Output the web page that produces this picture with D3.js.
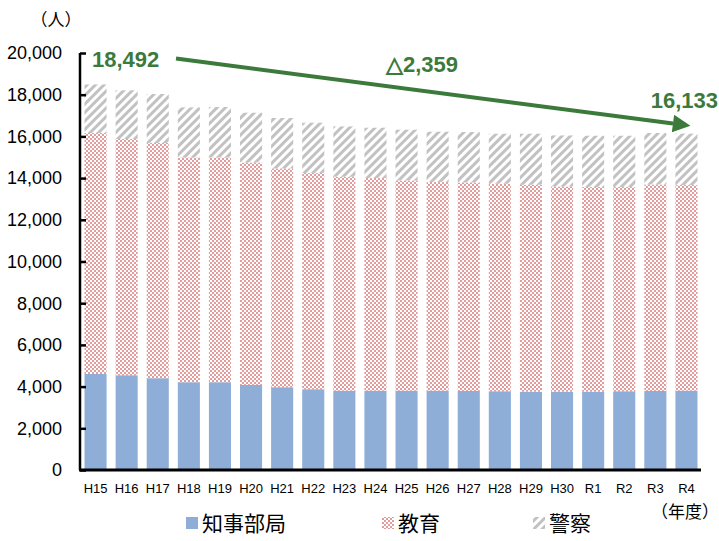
<!DOCTYPE html>
<html><head><meta charset="utf-8">
<script src="https://cdn.jsdelivr.net/npm/d3@7"></script>
<style>
body{margin:0;background:#fff;}
svg{display:block;}
</style></head>
<body>
<script>
const categories = ["H15","H16","H17","H18","H19","H20","H21","H22","H23","H24","H25","H26","H27","H28","H29","H30","R1","R2","R3","R4"];
const governor = [4608,4546,4402,4210,4210,4080,3970,3874,3806,3806,3806,3806,3792,3778,3758,3758,3758,3778,3792,3806];
const education = [11554,11328,11280,10780,10780,10670,10492,10368,10258,10196,10080,10004,9998,9950,9922,9840,9812,9792,9902,9860];
const police = [2330,2336,2352,2400,2420,2386,2420,2414,2414,2414,2434,2414,2420,2400,2448,2448,2462,2462,2468,2467];
const seriesNames = ["知事部局","教育","警察"];
const yTicks = [0,2000,4000,6000,8000,10000,12000,14000,16000,18000,20000];
const startLabel = "18,492", endLabel = "16,133", diffLabel = "△2,359";

const W = 719, H = 541;
const svg = d3.select("body").append("svg").attr("width", W).attr("height", H);
const defs = svg.append("defs");

// checker pattern for education
const chk = defs.append("pattern").attr("id","chk").attr("patternUnits","userSpaceOnUse").attr("width",4).attr("height",4);
chk.append("rect").attr("width",4).attr("height",4).attr("fill","#fff");
chk.append("rect").attr("width",2).attr("height",2).attr("fill","#e39c9c");
chk.append("rect").attr("x",2).attr("y",2).attr("width",2).attr("height",2).attr("fill","#e39c9c");

// diagonal stripes for police
const str = defs.append("pattern").attr("id","str").attr("patternUnits","userSpaceOnUse").attr("width",6).attr("height",6)
  .attr("patternTransform","rotate(45)");
str.append("rect").attr("width",6).attr("height",6).attr("fill","#fff");
str.append("rect").attr("width",3).attr("height",6).attr("fill","#c2c2c2");

const fills = ["#8eaed8","url(#chk)","url(#str)"];

const x = d3.scaleBand().domain(categories).range([80, 702]).paddingInner(0.29).paddingOuter(0.145);
const y = d3.scaleLinear().domain([0, 20000]).range([470, 53]);

const rows = categories.map((c,i)=>({cat:c, g:governor[i], e:education[i], p:police[i]}));
const stack = d3.stack().keys(["g","e","p"])(rows);

stack.forEach((layer, li) => {
  svg.append("g").selectAll("rect").data(layer).join("rect")
    .attr("x", d => x(d.data.cat))
    .attr("width", x.bandwidth())
    .attr("y", d => y(d[1]))
    .attr("height", d => y(d[0]) - y(d[1]))
    .attr("fill", fills[li]);
});

// y axis
const yAxis = svg.append("g").attr("transform","translate(80,0)")
  .call(d3.axisRight(y).tickValues(yTicks).tickSize(6).tickFormat(""));
yAxis.select(".domain").attr("stroke","#000").attr("stroke-width",2.5).attr("d","M0,470V53");
yAxis.selectAll(".tick line").attr("stroke","#000").attr("stroke-width",2.5);

svg.append("g").selectAll("text").data(yTicks).join("text")
  .attr("x", 62).attr("y", d => y(d)).attr("dy","0.35em")
  .attr("text-anchor","end")
  .attr("font-family","'Liberation Sans', Arial, sans-serif").attr("font-size",18).attr("fill","#000")
  .text(d => d3.format(",")(d));

// x axis
const xAxis = svg.append("g").attr("transform","translate(0,470)")
  .call(d3.axisBottom(x).tickSize(0).tickPadding(14));
xAxis.select(".domain").attr("stroke","#000").attr("stroke-width",3).attr("d","M79,0H701");
xAxis.selectAll("text").attr("font-family","'Liberation Sans', Arial, sans-serif").attr("font-size",13).attr("fill","#000");

// unit labels
svg.append("text").attr("x",56).attr("y",20).attr("dy","0.35em").attr("text-anchor","middle")
  .attr("font-family","'Noto Sans CJK JP', sans-serif").attr("font-size",17).text("（人）");
svg.append("text").attr("x",685).attr("y",512).attr("dy","0.35em").attr("text-anchor","middle")
  .attr("font-family","'Noto Sans CJK JP', sans-serif").attr("font-size",17).text("（年度）");

// legend
const legendX = [186, 382, 533];
seriesNames.forEach((n,i)=>{
  svg.append("rect").attr("x",legendX[i]).attr("y",517).attr("width",12).attr("height",12).attr("fill",fills[i]);
  svg.append("text").attr("x",legendX[i]+16).attr("y",523).attr("dy","0.36em")
    .attr("font-family","'Noto Sans CJK JP', sans-serif").attr("font-size",21).attr("fill","#000").text(n);
});

// trend arrow
const green = "#3b7a3b";
defs.append("marker").attr("id","arr").attr("viewBox","0 0 10 10").attr("refX",0).attr("refY",5)
  .attr("markerWidth",5).attr("markerHeight",4.4).attr("orient","auto").attr("markerUnits","strokeWidth")
  .append("path").attr("d","M0,0L10,5L0,10Z").attr("fill",green);
svg.append("line").attr("x1",176).attr("y1",58.5).attr("x2",673).attr("y2",123.5)
  .attr("stroke",green).attr("stroke-width",4).attr("marker-end","url(#arr)");

const tf = "'Liberation Sans', Arial, sans-serif";
svg.append("text").attr("x",92).attr("y",59).attr("dy","0.36em").attr("font-family",tf).attr("font-weight","bold")
  .attr("font-size",22).attr("fill",green).text(startLabel);
svg.append("text").attr("x",718).attr("y",100).attr("dy","0.36em").attr("text-anchor","end").attr("font-family",tf).attr("font-weight","bold")
  .attr("font-size",22).attr("fill",green).text(endLabel);
svg.append("text").attr("x",386).attr("y",64).attr("dy","0.36em").attr("font-family",tf).attr("font-weight","bold")
  .attr("font-size",22).attr("fill",green).text(diffLabel);
</script>
</body></html>
